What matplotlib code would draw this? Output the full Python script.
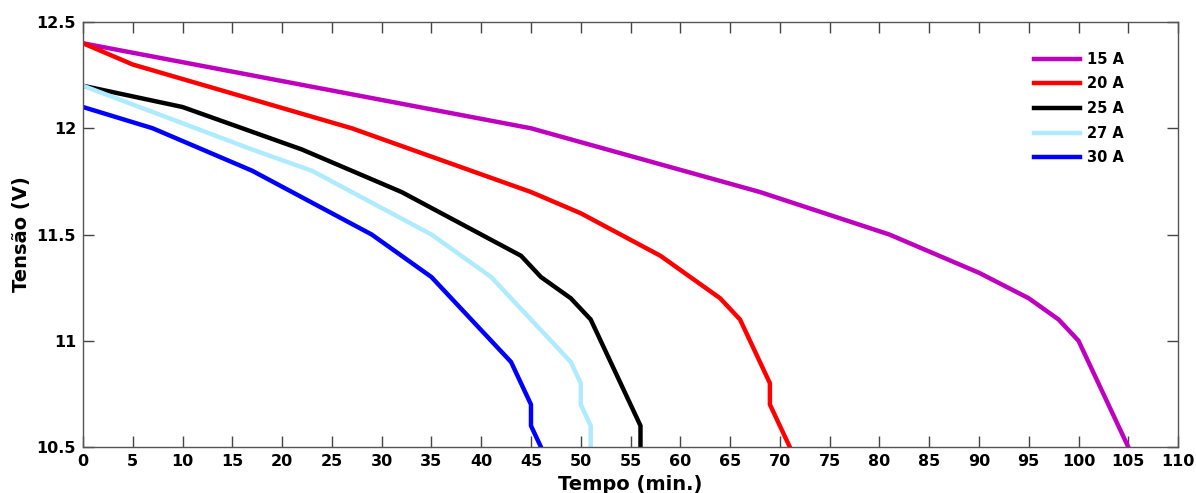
import matplotlib
matplotlib.use("Agg")
import matplotlib.pyplot as plt

plt.rcParams['font.family'] = ['DejaVu Sans']
plt.rcParams['font.weight'] = 'bold'

# discharge curves (tempo em min, tensão em V)
t_15 = [0, 45, 68, 81, 90, 95, 98, 100, 105]
v_15 = [12.4, 12.0, 11.7, 11.5, 11.32, 11.2, 11.1, 11.0, 10.5]

t_20 = [0, 5, 27, 45, 50, 58, 64, 66, 69, 69, 71]
v_20 = [12.4, 12.3, 12.0, 11.7, 11.6, 11.4, 11.2, 11.1, 10.8, 10.7, 10.5]

t_25 = [0, 10, 22, 32, 44, 46, 49, 51, 56, 56]
v_25 = [12.2, 12.1, 11.9, 11.7, 11.4, 11.3, 11.2, 11.1, 10.6, 10.5]

t_27 = [0, 17, 23, 35, 41, 49, 50, 50, 51, 51]
v_27 = [12.2, 11.9, 11.8, 11.5, 11.3, 10.9, 10.8, 10.7, 10.6, 10.5]

t_30 = [0, 7, 17, 29, 35, 43, 45, 45, 46]
v_30 = [12.1, 12.0, 11.8, 11.5, 11.3, 10.9, 10.7, 10.6, 10.5]

labels = ['15 A', '20 A', '25 A', '27 A', '30 A']
colors = ['#BF00BF', '#FF0000', '#000000', '#AEEBFF', '#0000FF']
xticks = list(range(0, 111, 5))
yticks = [10.5, 11, 11.5, 12, 12.5]

fig = plt.figure(figsize=(11.96, 4.93), dpi=100)
ax = fig.add_axes([0.0694, 0.0933, 0.9156, 0.862])

series = [(t_15, v_15), (t_20, v_20), (t_25, v_25), (t_27, v_27), (t_30, v_30)]
for (t, v), lab, c in zip(series, labels, colors):
    ax.plot(t, v, color=c, lw=3.2, label=lab, solid_joinstyle='miter')

ax.set_xlim(0, 110)
ax.set_ylim(10.5, 12.5)
ax.set_xticks(xticks)
ax.set_yticks(yticks)
ax.set_yticklabels(['10.5', '11', '11.5', '12', '12.5'])

ax.tick_params(direction='in', length=8, width=1, color='#444444',
               top=True, right=True, labelsize=11.5, pad=5)
for lbl in ax.get_xticklabels() + ax.get_yticklabels():
    lbl.set_fontweight('bold')
for s in ax.spines.values():
    s.set_color('#555555')
    s.set_linewidth(1)

ax.set_xlabel('Tempo (min.)', fontsize=14, fontweight='bold', labelpad=4)
ax.set_ylabel('Tensão (V)', fontsize=14, fontweight='bold', labelpad=4)

leg = ax.legend(loc='upper left', bbox_to_anchor=(0.868, 0.93), frameon=False,
                fontsize=10.5, handlelength=3.2, handletextpad=0.5,
                labelspacing=0.66, borderpad=0, borderaxespad=0)
for txt in leg.get_texts():
    txt.set_fontweight('bold')

fig.savefig('out.png', dpi=100)
